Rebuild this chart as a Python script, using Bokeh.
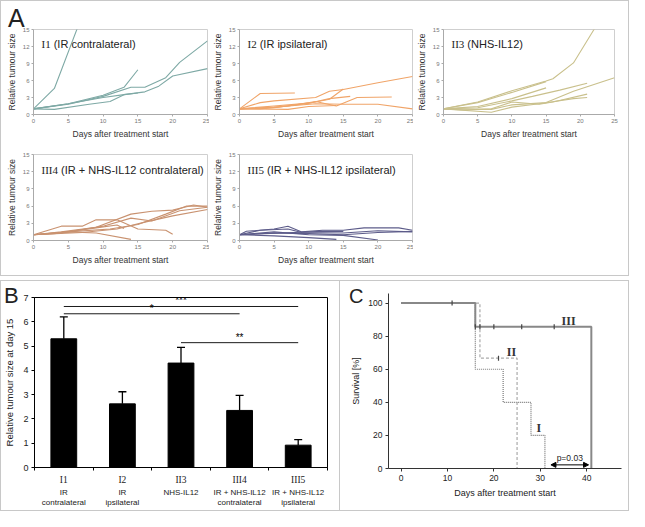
import math
from bokeh.plotting import figure
from bokeh.models import (Label, ColumnDataSource, FixedTicker, Whisker, TeeHead,
                          Arrow, NormalHead, Range1d, LinearAxis, Div)
from bokeh.layouts import row, column
from bokeh.embed import file_html
from bokeh.resources import INLINE
from bokeh.core.properties import value

SANS = "Liberation Sans"
SERIF = "Liberation Serif"

# ---------------- Panel A data ----------------
A_day_ticks = [0, 5, 10, 15, 20, 25]
A_size_ticks = [0, 3, 6, 9, 12, 15]

i1_days = [[0, 3, 7], [0, 5, 10, 13, 15], [0, 5, 10, 14, 16, 19, 21, 25],
           [0, 5, 10, 13, 16, 18, 20, 25], [0, 3, 8, 11, 13, 15]]
i1_sizes = [[1, 4.6, 17.5], [1, 1.9, 3.4, 4.8, 7.9], [1, 1.8, 3.2, 4.8, 4.8, 6.5, 9.2, 13.0],
            [1, 1.9, 3.0, 3.5, 4.0, 5.0, 6.8, 8.1], [1, 0.9, 1.8, 2.3, 3.5, 3.8]]

i2_days = [[0, 3, 8], [0, 3, 5, 11, 13, 15, 20, 25], [0, 5, 10, 13, 15], [0, 5, 10, 13, 16],
           [0, 3, 7, 11, 14, 17, 22], [0, 5, 11, 15, 20, 25], [0, 7, 10, 14]]
i2_sizes = [[1, 3.7, 3.8], [1, 2.1, 2.4, 3.0, 4.1, 4.4, 5.6, 6.7], [1, 1.5, 2.0, 2.7, 4.5],
            [1, 1.2, 2.0, 2.8, 3.2], [1, 1.0, 1.5, 2.3, 1.5, 3.0, 3.1], [1, 1.3, 1.9, 1.8, 1.8, 1.0],
            [1, 0.9, 1.4, 1.6]]

ii3_days = [[0, 5, 10, 15, 16, 19, 22, 23], [0, 5, 10, 15], [0, 5, 10, 15],
            [0, 5, 10, 13, 17, 21], [0, 7, 10, 15, 19, 25], [0, 3, 7, 10, 14, 16, 21],
            [0, 7, 10, 14, 19, 21]]
ii3_sizes = [[1, 2.2, 4.2, 5.9, 6.3, 9.1, 15.0, 17.0], [1, 2.1, 3.9, 5.8], [1, 1.4, 2.8, 4.7],
             [1, 1.2, 2.4, 3.2, 4.3, 5.5], [1, 0.9, 1.7, 2.1, 4.1, 6.5],
             [1, 0.8, 1.0, 2.2, 1.8, 2.2, 3.6], [1, 0.4, 1.3, 1.9, 2.8, 3.0]]

iii4_days = [[0, 4, 7, 9, 12, 15, 19, 20], [0, 4, 9, 14, 17, 20, 23, 25],
             [0, 4, 10, 14, 17, 21, 25], [0, 5, 11, 15, 19, 22, 25], [0, 7, 12, 16, 20, 25],
             [0, 5, 9, 14], [0, 3, 9, 12, 13]]
iii4_sizes = [[1, 2.5, 2.5, 3.6, 3.6, 2.0, 1.8, 1.1], [1, 1.5, 2.3, 4.6, 5.1, 5.3, 6.2, 5.8],
              [1, 1.3, 2.5, 3.9, 3.4, 5.2, 5.8], [1, 1.5, 2.0, 2.8, 4.6, 6.0, 6.0],
              [1, 1.4, 2.0, 3.2, 4.3, 5.4], [1, 1.5, 1.3, 0.2], [1, 1.2, 2.2, 2.7, 2.1]]

iii5_days = [[0, 1, 5, 7, 9, 12, 15, 18, 23, 25], [0, 3, 7, 9, 15, 20, 25],
             [0, 5, 10, 15, 20, 25], [0, 5, 10, 14], [0, 5, 10, 15, 20], [0, 6, 12, 15]]
iii5_sizes = [[1, 1.6, 2.0, 2.5, 1.5, 1.8, 1.8, 2.2, 2.2, 1.8], [1, 1.8, 2.0, 1.4, 1.3, 1.7, 1.5],
              [1, 1.3, 1.2, 1.0, 1.4, 1.6], [1, 0.8, 0.5, 0.2], [1, 1.5, 1.0, 0.9, 0.1],
              [1, 1.3, 1.6, 1.6]]

# ---------------- Panel B data ----------------
B_groups = ["I1", "I2", "II3", "III4", "III5"]
B_subtitles = ["IR\ncontralateral", "IR\nipsilateral", "NHS-IL12",
               "IR + NHS-IL12\ncontralateral", "IR + NHS-IL12\nipsilateral"]
B_means = [5.3, 2.62, 4.3, 2.35, 0.92]
B_errors = [0.9, 0.5, 0.65, 0.62, 0.23]
B_y_ticks = [0, 1, 2, 3, 4, 5, 6, 7]
B_boundaries = [0, 1, 2, 3, 4, 5]
sig_from = [0, 0, 2]
sig_to = [4, 3, 4]
sig_level = [6.63, 6.33, 5.14]
sig_text = ["***", "*", "**"]

# ---------------- Panel C data ----------------
C_I_days = [0, 16, 22, 28, 31]
C_I_surv = [100, 60, 40, 20, 0]
C_II_days = [0, 17, 25]
C_II_surv = [100, 66.7, 0]
C_III_days = [0, 16, 41]
C_III_surv = [100, 85.7, 0]
C_II_cens_days = [21]
C_II_cens_surv = [66.7]
C_III_cens_days = [11, 16, 17, 20, 26, 33]
C_III_cens_surv = [100, 85.7, 85.7, 85.7, 85.7, 85.7]
C_x_ticks = [0, 10, 20, 30, 40]
C_y_ticks = [0, 20, 40, 60, 80, 100]
C_curve_names = ["III", "II", "I"]
C_name_days = [36.1, 23.8, 29.7]
C_name_surv = [89.4, 70.5, 24.3]
p_value_text = "p=0.03"
p_from_day = 32.3
p_to_day = 40.4


def serif_width(s, fs):
    return sum(0.333 if c == "I" else 0.5 for c in s) * fs


def letter_div(text, size, height, margin):
    return Div(text=text, width=24, height=height, margin=margin,
               styles={"position": "relative", "z-index": "10", "font-family": SANS,
                       "font-size": f"{size}px", "line-height": f"{height}px", "color": "#222222"})


def small_panel(xs, ys, color, roman, rest, width, height, left, right, top, bottom):
    p = figure(width=width, height=height, x_range=Range1d(0, 25), y_range=Range1d(0, 15),
               output_backend="svg", toolbar_location=None,
               min_border_left=left, min_border_right=right,
               min_border_top=top, min_border_bottom=bottom)
    p.multi_line(xs=xs, ys=ys, line_color=color, line_width=1.1)
    p.grid.visible = False
    p.outline_line_color = "#cfcfcf"
    p.xaxis.ticker = FixedTicker(ticks=A_day_ticks)
    p.yaxis.ticker = FixedTicker(ticks=A_size_ticks)
    p.xaxis.axis_label = "Days after treatment start"
    p.yaxis.axis_label = "Relative tumour size"
    for ax in p.axis:
        ax.axis_line_color = "#aaaaaa"
        ax.major_tick_line_color = "#aaaaaa"
        ax.minor_tick_line_color = None
        ax.major_tick_out = 2
        ax.major_tick_in = 0
        ax.major_label_text_font_size = "6px"
        ax.major_label_text_color = "#777777"
        ax.major_label_text_font = SANS
        ax.major_label_standoff = 2
        ax.axis_label_text_font_size = "8.5px"
        ax.axis_label_text_font_style = "normal"
        ax.axis_label_text_font = SANS
        ax.axis_label_text_color = "#333333"
        ax.axis_label_standoff = 3
    fh = height - top - bottom
    fs = 11
    p.add_layout(Label(x=8, y=fh - 15, x_units="screen", y_units="screen", text=roman,
                       text_font=SERIF, text_font_size=f"{fs}px", text_baseline="middle",
                       text_color="#222222"))
    p.add_layout(Label(x=8 + serif_width(roman, fs) + 3, y=fh - 15, x_units="screen", y_units="screen",
                       text=rest, text_font=SANS, text_font_size=f"{fs}px",
                       text_baseline="middle", text_color="#222222"))
    return p


a1 = small_panel(i1_days, i1_sizes, "#7ea9a5", "I1", "(IR contralateral)", 208, 140, 32, 2, 28, 26)
a2 = small_panel(i2_days, i2_sizes, "#f0a468", "I2", "(IR ipsilateral)", 204, 140, 29, 1, 28, 26)
a3 = small_panel(ii3_days, ii3_sizes, "#c9c08c", "II3", "(NHS-IL12)", 215, 140, 25, 14, 28, 26)
a4 = small_panel(iii4_days, iii4_sizes, "#c99270", "III4", "(IR + NHS-IL12 contralateral)", 208, 134, 32, 2, 13, 35)
a5 = small_panel(iii5_days, iii5_sizes, "#5d5c8a", "III5", "(IR + NHS-IL12 ipsilateral)", 204, 134, 29, 1, 13, 35)

panelA = column(letter_div("A", 25, 28, (3, 0, -31, 7)), row(a1, a2, a3), row(a4, a5),
                styles={"border": "1px solid #c8c8c8"})

# ---------------- Panel B ----------------
B_pos = [i + 0.5 for i in range(len(B_groups))]
B_upper = [m + e for m, e in zip(B_means, B_errors)]
srcB = ColumnDataSource(dict(x=B_pos, top=B_means, upper=B_upper))

bw, bh, bl, br, bt, bb = 338, 229, 32, 12, 16, 42
pB = figure(width=bw, height=bh, x_range=Range1d(0, 5), y_range=Range1d(0, 7),
            output_backend="svg", toolbar_location=None,
            min_border_left=bl, min_border_right=br, min_border_top=bt, min_border_bottom=bb)
pB.grid.visible = False
pB.outline_line_color = "black"
pB.outline_line_width = 1
pB.vbar(x="x", top="top", width=0.44, fill_color="black", line_color="black", source=srcB)
pB.add_layout(Whisker(base="x", lower="top", upper="upper", source=srcB, dimension="height",
                      line_color="black", line_width=1.3, lower_head=None,
                      upper_head=TeeHead(size=8, line_color="black", line_width=1.3)))
for f, t, lv, s in zip(sig_from, sig_to, sig_level, sig_text):
    pB.line(x=[B_pos[f], B_pos[t]], y=[lv, lv], line_color="black", line_width=0.9)
    pB.text(x=[(B_pos[f] + B_pos[t]) / 2], y=[lv], text=[s], text_align="center",
            text_baseline="bottom", text_font=value(SANS), text_font_size="10px", text_color="black")

main_x = pB.xaxis[0]
main_x.ticker = FixedTicker(ticks=B_pos, minor_ticks=B_boundaries)
main_x.major_label_overrides = {x: g for x, g in zip(B_pos, B_groups)}
ax_s = LinearAxis(ticker=FixedTicker(ticks=B_pos),
                  major_label_overrides={x: s for x, s in zip(B_pos, B_subtitles)})
pB.add_layout(ax_s, "below")
pB.yaxis.ticker = FixedTicker(ticks=B_y_ticks)
pB.yaxis.axis_label = "Relative tumour size at day 15"
for ax in pB.axis:
    ax.axis_line_color = "black"
    ax.major_tick_line_color = "black"
    ax.minor_tick_line_color = None
    ax.major_tick_out = 3
    ax.major_tick_in = 0
    ax.major_label_text_font = SANS
    ax.major_label_text_font_size = "9px"
    ax.major_label_text_color = "#222222"
    ax.major_label_standoff = 3
    ax.axis_label_text_font = SANS
    ax.axis_label_text_font_size = "9.5px"
    ax.axis_label_text_font_style = "normal"
    ax.axis_label_text_color = "#222222"
    ax.axis_label_standoff = 5
main_x.major_tick_line_color = None
main_x.minor_tick_line_color = "black"
main_x.minor_tick_out = 3
main_x.minor_tick_in = 0
main_x.major_label_text_font = SERIF
main_x.major_label_text_font_size = "9.5px"
main_x.major_label_standoff = 4
ax_s.axis_line_color = None
ax_s.major_tick_line_color = None
ax_s.major_tick_out = 0
ax_s.major_label_standoff = 0
ax_s.major_label_text_font_size = "8px"
ax_s.major_label_text_color = "#222222"

colB = column(letter_div("B", 22, 24, (3, 0, -27, 3)), pB,
              styles={"border": "1px solid #c8c8c8"})

# ---------------- Panel C ----------------
cw, ch, cl, cr, ct, cb = 288, 229, 48, 7, 12, 42
pC = figure(width=cw, height=ch, x_range=Range1d(-2.7, 47.5), y_range=Range1d(0, 105.8),
            output_backend="svg", toolbar_location=None,
            min_border_left=cl, min_border_right=cr, min_border_top=ct, min_border_bottom=cb)
pC.grid.visible = False
pC.outline_line_color = None
pC.step(x=C_I_days, y=C_I_surv, mode="after", line_color="#777777", line_width=1.2, line_dash="1 1")
pC.step(x=C_II_days, y=C_II_surv, mode="after", line_color="#aaaaaa", line_width=1.2, line_dash="3 2")
pC.step(x=C_III_days, y=C_III_surv, mode="after", line_color="#888888", line_width=2)
pC.scatter(x=C_III_cens_days, y=C_III_cens_surv, marker="dash", angle=math.pi / 2, size=5,
           line_color="#444444", line_width=1.2)
pC.scatter(x=C_II_cens_days, y=C_II_cens_surv, marker="dash", angle=math.pi / 2, size=5,
           line_color="#444444", line_width=1.2)
pC.text(x=C_name_days, y=C_name_surv, text=C_curve_names, text_align="center",
        text_baseline="middle", text_font=value(SERIF), text_font_style="bold",
        text_font_size="12px", text_color="#333333")
pC.add_layout(Arrow(x_start=p_from_day, y_start=2.2, x_end=p_to_day, y_end=2.2, line_width=1,
                    start=NormalHead(size=5, fill_color="black", line_color="black"),
                    end=NormalHead(size=5, fill_color="black", line_color="black")))
pC.text(x=[(p_from_day + p_to_day) / 2], y=[3.2], text=[p_value_text], text_align="center",
        text_baseline="bottom", text_font=value(SANS), text_font_size="8.5px", text_color="#222222")
pC.xaxis.ticker = FixedTicker(ticks=C_x_ticks)
pC.yaxis.ticker = FixedTicker(ticks=C_y_ticks)
pC.xaxis.axis_label = "Days after treatment start"
pC.yaxis.axis_label = "Survival [%]"
for ax in pC.axis:
    ax.axis_line_color = "#333333"
    ax.major_tick_line_color = "#333333"
    ax.minor_tick_line_color = None
    ax.major_tick_out = 3
    ax.major_tick_in = 0
    ax.major_label_text_font = SANS
    ax.major_label_text_font_size = "8.5px"
    ax.major_label_text_color = "#222222"
    ax.major_label_standoff = 3
    ax.axis_label_text_font = SANS
    ax.axis_label_text_font_size = "9px"
    ax.axis_label_text_font_style = "normal"
    ax.axis_label_text_color = "#222222"
    ax.axis_label_standoff = 4

colC = column(letter_div("C", 20, 22, (4, 0, -26, 9)), pC,
              styles={"border-top": "1px solid #c8c8c8", "border-right": "1px solid #c8c8c8",
                      "border-bottom": "1px solid #c8c8c8"})

layout = column(panelA, row(colB, colC), spacing=4)

open("out.html", "w").write(file_html(layout, INLINE))
